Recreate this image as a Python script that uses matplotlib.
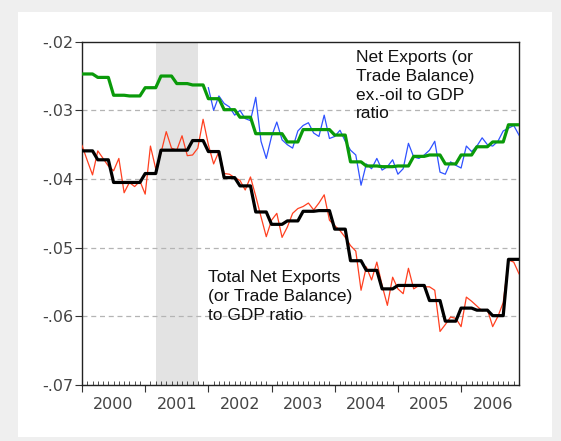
import numpy as np
import matplotlib
matplotlib.use("Agg")
import matplotlib.pyplot as plt
from matplotlib.patches import Rectangle
import matplotlib.transforms as mtransforms

plt.rcParams['font.family'] = ['Liberation Sans', 'DejaVu Sans']

# ---------------- data ----------------
start_year = 2000
n_months = 84
years = ['2000', '2001', '2002', '2003', '2004', '2005', '2006']
yticks = [-0.07, -0.06, -0.05, -0.04, -0.03, -0.02]
ytick_labels = ['-.07', '-.06', '-.05', '-.04', '-.03', '-.02']

# Total net exports to GDP, monthly (2000:01-2006:12)
total_monthly = [
    -0.0351, -0.0373, -0.0394, -0.0359, -0.0370, -0.0381, -0.0388, -0.0370, -0.0420, -0.0405, -0.0411, -0.0403,
    -0.0422, -0.0352, -0.0385, -0.0362, -0.0331, -0.0355, -0.0358, -0.0337, -0.0366, -0.0365, -0.0355, -0.0313,
    -0.0350, -0.0378, -0.0360, -0.0392, -0.0393, -0.0398, -0.0402, -0.0416, -0.0397, -0.0425, -0.0455, -0.0484,
    -0.0460, -0.0450, -0.0485, -0.0470, -0.0450, -0.0443, -0.0440, -0.0435, -0.0445, -0.0435, -0.0423, -0.0460,
    -0.0468, -0.0475, -0.0485, -0.0497, -0.0505, -0.0562, -0.0528, -0.0547, -0.0521, -0.0555, -0.0584, -0.0543,
    -0.0560, -0.0567, -0.0530, -0.0560, -0.0555, -0.0557, -0.0557, -0.0562, -0.0622, -0.0612, -0.0601, -0.0603,
    -0.0615, -0.0572, -0.0578, -0.0585, -0.0592, -0.0590, -0.0615, -0.0600, -0.0580, -0.0518, -0.0521, -0.0538]

# Ex-oil net exports to GDP, monthly (2002:01-2006:12)
exoil_start = 24
exoil_monthly = [
    -0.0267, -0.0300, -0.0279, -0.0290, -0.0295, -0.0307, -0.0300, -0.0312, -0.0315, -0.0281, -0.0345, -0.0370,
    -0.0338, -0.0317, -0.0343, -0.0350, -0.0355, -0.0330, -0.0322, -0.0318, -0.0333, -0.0338, -0.0307, -0.0341,
    -0.0338, -0.0329, -0.0345, -0.0358, -0.0365, -0.0409, -0.0378, -0.0385, -0.0370, -0.0387, -0.0382, -0.0372,
    -0.0393, -0.0385, -0.0348, -0.0368, -0.0370, -0.0365, -0.0358, -0.0345, -0.0390, -0.0393, -0.0375, -0.0380,
    -0.0384, -0.0352, -0.0360, -0.0352, -0.0340, -0.0350, -0.0352, -0.0345, -0.0330, -0.0326, -0.0322, -0.0336]

# Quarterly (2000Q1-2006Q4)
total_quarterly = [
    -0.0359, -0.0372, -0.0405, -0.0405,
    -0.0392, -0.0358, -0.0358, -0.0344,
    -0.0360, -0.0398, -0.0410, -0.0448,
    -0.0466, -0.0461, -0.0447, -0.0446,
    -0.0473, -0.0519, -0.0533, -0.0560,
    -0.0555, -0.0555, -0.0577, -0.0607,
    -0.0588, -0.0591, -0.0599, -0.0517]
exoil_quarterly = [
    -0.0247, -0.0252, -0.0278, -0.0279,
    -0.0267, -0.0250, -0.0261, -0.0263,
    -0.0283, -0.0299, -0.0310, -0.0334,
    -0.0334, -0.0346, -0.0328, -0.0328,
    -0.0336, -0.0375, -0.0381, -0.0382,
    -0.0381, -0.0367, -0.0365, -0.0378,
    -0.0365, -0.0353, -0.0346, -0.0321]

recession = (2001 + 2 / 12, 2001 + 10 / 12)   # 2001:03 - 2001:11

label_exoil = "Net Exports (or\nTrade Balance)\nex.-oil to GDP\nratio"
label_total = "Total Net Exports\n(or Trade Balance)\nto GDP ratio"

# ---------------- figure ----------------
W, H = 561, 441
fig = plt.figure(figsize=(W / 100, H / 100), dpi=100, facecolor='#efefef')
fig.patches.append(Rectangle((18 / W, 4 / H), (552 - 18) / W, (429 - 4) / H,
                             transform=fig.transFigure, facecolor='white',
                             edgecolor='none', zorder=-10))

L, R, T, B = 82, 519, 41.7, 385
ax = fig.add_axes([L / W, 1 - B / H, (R - L) / W, (B - T) / H])
ax.set_zorder(1)
ax.set_facecolor('white')

t = start_year + np.arange(n_months) / 12.0
ax.set_xlim(t[0], t[-1])
ax.set_ylim(-0.07, -0.02)

ax.axvspan(recession[0], recession[1], color='#e3e3e3', lw=0, zorder=0)

for yv in yticks[:-1]:
    ax.axhline(yv, color='#b4b4b4', lw=0.9, ls=(0, (4, 3)), zorder=1)

ax.plot(t, total_monthly, color='#ff4020', lw=0.9, zorder=3)
ax.plot(t[exoil_start:], exoil_monthly, color='#2f52ff', lw=0.9, zorder=3)
ax.plot(t, np.repeat(exoil_quarterly, 3), color='#0a9a0a', lw=2.3, zorder=4)
ax.plot(t, np.repeat(total_quarterly, 3), color='black', lw=2.3, zorder=4)

# axes styling
for s in ax.spines.values():
    s.set_color('#222222')
    s.set_linewidth(1.0)

tick_font = ['DejaVu Sans']
ax.set_yticks(yticks)
ax.set_yticklabels(ytick_labels, family=tick_font)
ax.tick_params(axis='y', direction='out', length=5, width=0.8, colors='#333333',
               labelsize=11.5, pad=1, labelcolor='#444444')

year_starts = [start_year + i for i in range(len(years))]
ax.set_xticks(year_starts)
ax.set_xticklabels([])
ax.set_xticks(t, minor=True)
ax.tick_params(axis='x', which='major', direction='out', length=5, width=0.8, colors='#333333')
ax.tick_params(axis='x', which='minor', direction='in', length=3, width=0.6, colors='#333333')

trans = mtransforms.blended_transform_factory(ax.transData, ax.transAxes)
for i, lab in enumerate(years):
    ax.text(year_starts[i] + 0.5, -0.057, lab, transform=trans, ha='center', va='center',
            fontsize=11.5, color='#444444', family=tick_font)

ax.text(2004.33, -0.02115, label_exoil, ha='left', va='top', fontsize=12.5,
        linespacing=1.33, color='#111111', zorder=5)
ax.text(2001.99, -0.0533, label_total, ha='left', va='top', fontsize=12.5,
        linespacing=1.33, color='#111111', zorder=5)

fig.savefig('out.png', dpi=100, facecolor=fig.get_facecolor())
